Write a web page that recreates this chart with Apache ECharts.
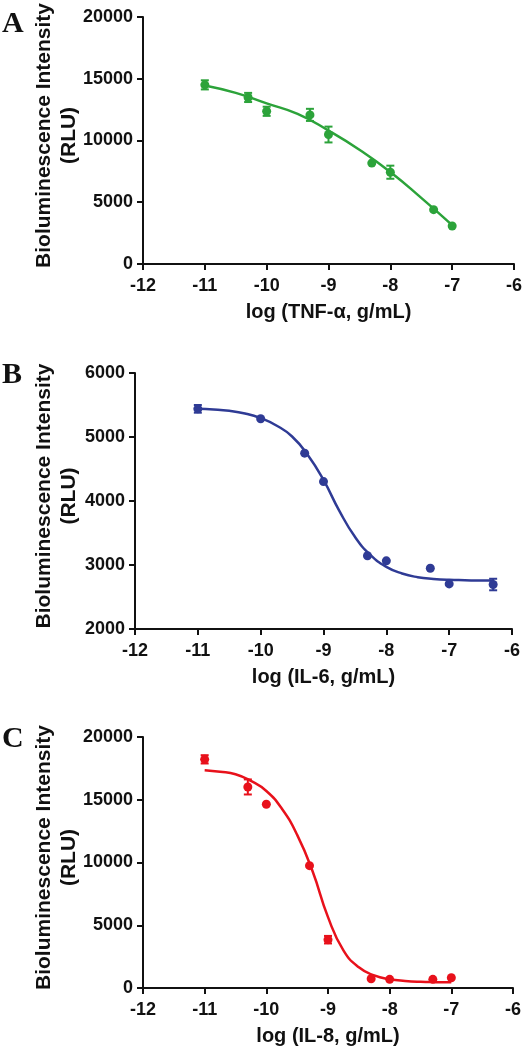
<!DOCTYPE html>
<html><head><meta charset="utf-8">
<script src="https://cdn.jsdelivr.net/npm/echarts@6/dist/echarts.min.js"></script>
<style>html,body{margin:0;padding:0;background:#fff}#c{width:530px;height:1050px}</style>
</head><body><div id="c"></div>
<script>
// ---- Panel A: TNF-alpha ----
const doseA = [-11, -10.3, -10, -9.3, -9, -8.3, -8, -7.3, -7];
const valA  = [14500, 13480, 12360, 12070, 10480, 8170, 7430, 4400, 3080];
const errA  = [370, 370, 370, 490, 640, 0, 530, 0, 0];
const fitXA = [-11, -10.5, -10, -9.5, -9, -8.5, -8, -7.5, -7];
const fitYA = [14450, 13850, 13000, 12150, 10800, 9250, 7450, 5350, 3150];

// ---- Panel B: IL-6 ----
const doseB = [-11, -10, -9.3, -9, -8.3, -8, -7.3, -7, -6.3];
const valB  = [5440, 5285, 4747, 4303, 3144, 3065, 2950, 2705, 2695];
const errB  = [60, 0, 0, 0, 0, 0, 0, 0, 90];
const fitXB = [-11, -10.75, -10.5, -10.25, -10, -9.75, -9.5, -9.25, -9, -8.75, -8.5, -8.25, -8, -7.75, -7.5, -7.25, -7, -6.75, -6.5, -6.3];
const fitYB = [5441, 5431, 5410, 5368, 5295, 5180, 5008, 4720, 4329, 3850, 3441, 3154, 2971, 2867, 2810, 2783, 2768, 2762, 2757, 2757];

// ---- Panel C: IL-8 ----
const doseC = [-11, -10.3, -10, -9.3, -9, -8.3, -8, -7.3, -7];
const valC  = [18220, 16020, 14640, 9750, 3850, 740, 690, 690, 820];
const errC  = [330, 600, 0, 0, 300, 0, 0, 0, 0];
const fitXC = [-11, -10.75, -10.5, -10.25, -10, -9.75, -9.5, -9.25, -9, -8.75, -8.5, -8.25, -8, -7.75, -7.5, -7.25, -7];
const fitYC = [17350, 17230, 17030, 16500, 15700, 14300, 12200, 9300, 5650, 3000, 1650, 1000, 700, 560, 490, 465, 455];

// ---- axes ----
const xRange = [-12, -6, 1];
const yRangeA = [0, 20000, 5000];
const yRangeB = [2000, 6000, 1000];
const yRangeC = [0, 20000, 5000];
const xTitles = ['log (TNF-\u03b1, g/mL)', 'log (IL-6, g/mL)', 'log (IL-8, g/mL)'];
const yTitle = 'Bioluminescence Intensity\n(RLU)';
const panelLetters = ['A', 'B', 'C'];
const colors = ['#2ca33a', '#2f3b95', '#e8111b'];

const chart = echarts.init(document.getElementById('c'), null, {renderer: 'canvas'});

const grids = [
  {left: 143, right: 16, top: 13, height: 251},
  {left: 135, right: 18, top: 373, height: 256},
  {left: 143, right: 17, top: 737, height: 251}
];
const nameGaps = [61, 53, 61];
const yRanges = [yRangeA, yRangeB, yRangeC];
const doses = [doseA, doseB, doseC];
const vals = [valA, valB, valC];
const errs = [errA, errB, errC];
const fitXs = [fitXA, fitXB, fitXC];
const fitYs = [fitYA, fitYB, fitYC];

const labelFont = {fontFamily: 'Liberation Sans, Arial, sans-serif', fontWeight: 'bold', fontSize: 18, color: '#111'};
const axisLine = {show: true, onZero: false, lineStyle: {color: '#111', width: 2}};
const axisTick = {show: true, inside: false, length: 6, lineStyle: {color: '#111', width: 2}};

const xAxis = [], yAxis = [], series = [];
for (let i = 0; i < 3; i++) {
  xAxis.push({
    type: 'value', gridIndex: i, min: xRange[0], max: xRange[1], interval: xRange[2],
    axisLine, axisTick, splitLine: {show: false},
    axisLabel: Object.assign({margin: 13, formatter: v => String(v)}, labelFont),
    name: xTitles[i], nameLocation: 'middle', nameGap: 38, nameMoveOverlap: false,
    nameTextStyle: {fontFamily: 'Liberation Sans, Arial, sans-serif', fontWeight: 'bold', fontSize: 20, color: '#111'}
  });
  yAxis.push({
    type: 'value', gridIndex: i, min: yRanges[i][0], max: yRanges[i][1], interval: yRanges[i][2],
    axisLine, axisTick, splitLine: {show: false},
    axisLabel: Object.assign({margin: 10, formatter: v => String(v)}, labelFont),
    name: yTitle, nameLocation: 'middle', nameGap: nameGaps[i], nameRotate: 90, nameMoveOverlap: false,
    nameTextStyle: {fontFamily: 'Liberation Sans, Arial, sans-serif', fontWeight: 'bold', fontSize: 21,
      lineHeight: 25, color: '#111', align: 'center', padding: [0, 0, 0, 10]}
  });
  const color = colors[i];
  const errData = [];
  doses[i].forEach((d, k) => {
    if (errs[i][k] > 0) errData.push([d, vals[i][k] - errs[i][k], vals[i][k] + errs[i][k]]);
  });
  series.push({
    type: 'custom', xAxisIndex: i, yAxisIndex: i, z: 3, silent: true,
    itemStyle: {color},
    data: errData,
    renderItem: function (params, api) {
      const x = api.value(0);
      const p1 = api.coord([x, api.value(1)]);
      const p2 = api.coord([x, api.value(2)]);
      const w = 4;
      const st = {stroke: color, lineWidth: 2};
      return {type: 'group', children: [
        {type: 'line', shape: {x1: p1[0], y1: p1[1], x2: p2[0], y2: p2[1]}, style: st},
        {type: 'line', shape: {x1: p1[0] - w, y1: p1[1], x2: p1[0] + w, y2: p1[1]}, style: st},
        {type: 'line', shape: {x1: p2[0] - w, y1: p2[1], x2: p2[0] + w, y2: p2[1]}, style: st}
      ]};
    }
  });
  series.push({
    type: 'line', xAxisIndex: i, yAxisIndex: i, z: 4, silent: true,
    data: fitXs[i].map((x, k) => [x, fitYs[i][k]]),
    smooth: 0.5, showSymbol: false, symbol: 'none',
    lineStyle: {color, width: 2.5}
  });
  series.push({
    type: 'scatter', xAxisIndex: i, yAxisIndex: i, z: 5, silent: true,
    data: doses[i].map((d, k) => [d, vals[i][k]]),
    symbol: 'circle', symbolSize: 9, itemStyle: {color, opacity: 1}
  });
}

const letterY = [24, 375, 739];
const graphic = panelLetters.map((t, i) => ({
  type: 'text', left: 2, top: letterY[i] - 15,
  style: {text: t, font: 'bold 30px "Liberation Serif", "Times New Roman", serif', fill: '#111'}
}));

chart.setOption({
  animation: false,
  backgroundColor: '#fff',
  grid: grids,
  xAxis, yAxis, series, graphic
});
</script>
</body></html>
